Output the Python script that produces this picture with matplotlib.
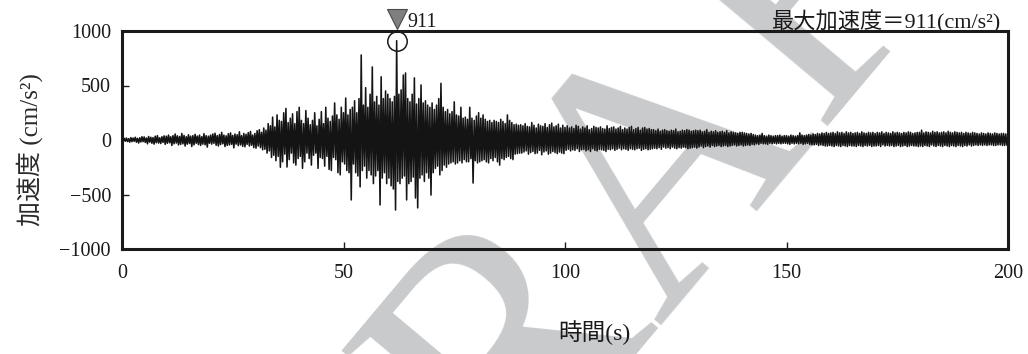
import numpy as np
import matplotlib
matplotlib.use("Agg")
import matplotlib.pyplot as plt

# ---- data: 4 readings per second ----
dt = 0.25
accel_rows = [
    # 0-10 s
    [8, -12, 15, -10, 18, -14, 12, -20, 22, -15, 18, -12, 25, -20, 15, -28, 20, -18, 30, -15,
     28, -22, 18, -35, 32, -20, 25, -30, 22, -38, 35, -25, 40, -28, 20, -32, 30, -22, 38, -40],
    # 10-20 s
    [35, -30, 45, -25, 30, -50, 40, -35, 55, -28, 38, -45, 32, -40, 60, -35, 42, -55, 30, -38,
     48, -32, 35, -60, 40, -45, 52, -30, 36, -42, 45, -50, 30, -38, 58, -44, 40, -65, 35, -30],
    # 20-30 s
    [45, -38, 55, -30, 62, -48, 40, -55, 50, -42, 70, -35, 45, -60, 38, -50, 58, -45, 65, -40,
     42, -72, 55, -38, 48, -52, 75, -45, 40, -58, 60, -62, 52, -40, 68, -55, 78, -48, 45, -70],
    # 30-40 s
    [60, -75, 85, -55, 95, -70, 70, -90, 110, -85, 90, -120, 150, -100, 130, -160, 210, -140, 120, -190,
     230, -150, 180, -250, 170, -200, 250, -130, 290, -248, 160, -180, 200, -120, 240, -210, 150, -230, 260, -170],
    # 40-50 s
    [300, -150, 180, -260, 150, -200, 270, -120, 200, -170, 140, -230, 180, -140, 250, -120, 130, -260, 190, -160,
     260, -170, 150, -240, 300, -150, 200, -270, 170, -280, 220, -160, 340, -180, 230, -300, 190, -320, 300, -200],
    # 50-60 s
    [250, -220, 385, -280, 230, -300, 280, -550, 300, -220, 360, -300, 250, -330, 380, -430, 780, -280, 320, -240,
     480, -350, 300, -280, 420, -320, 670, -400, 350, -330, 400, -280, 320, -596, 580, -350, 380, -300, 450, -400],
    # 60-70 s
    [420, -350, 380, -420, 350, -450, 400, -642, 911, -380, 420, -400, 460, -350, 596, -330, 615, -550, 380, -400,
     350, -380, 420, -340, 570, -532, 330, -623, 380, -350, 505, -320, 340, -380, 360, -300, 320, -350, 300, -505],
    # 70-80 s
    [340, -300, 280, -260, 320, -240, 380, -320, 520, -280, 300, -230, 260, -250, 280, -220, 240, -210, 260, -200,
     350, -220, 230, -210, 220, -190, 300, -210, 200, -180, 210, -200, 190, -200, 300, -170, 200, -395, 180, -190],
    # 80-90 s
    [220, -210, 250, -200, 200, -190, 230, -180, 190, -200, 170, -210, 180, -170, 160, -190, 180, -160, 170, -200,
     160, -230, 190, -170, 170, -180, 150, -160, 230, -150, 180, -170, 160, -180, 140, -130, 145, -125, 135, -120],
    # 90-100 s
    [140, -120, 130, -110, 150, -100, 125, -130, 120, -115, 160, -105, 135, -125, 110, -120, 145, -95, 130, -135,
     125, -110, 150, -100, 115, -130, 140, -120, 155, -105, 120, -115, 130, -125, 145, -110, 110, -120, 135, -125],
    # 100-110 s
    [115, -95, 130, -85, 110, -100, 120, -90, 105, -95, 135, -80, 125, -105, 100, -90, 120, -85, 110, -100,
     130, -90, 95, -105, 105, -80, 125, -95, 115, -100, 110, -85, 120, -90, 105, -95, 100, -105, 130, -85],
    # 110-120 s
    [105, -90, 115, -80, 120, -95, 100, -85, 110, -75, 125, -90, 95, -80, 110, -85, 100, -95, 115, -80,
     125, -85, 95, -90, 105, -80, 115, -75, 90, -95, 110, -85, 115, -80, 100, -90, 105, -85, 95, -80],
    # 120-130 s
    [95, -75, 85, -80, 100, -70, 80, -85, 90, -65, 95, -75, 85, -70, 80, -80, 90, -65, 85, -75,
     100, -80, 75, -70, 80, -75, 90, -65, 85, -70, 95, -80, 90, -75, 80, -70, 85, -65, 90, -75],
    # 130-140 s
    [85, -65, 90, -55, 75, -70, 80, -60, 95, -55, 70, -65, 80, -50, 75, -60, 85, -55, 70, -50,
     75, -60, 80, -55, 70, -50, 85, -60, 65, -55, 75, -50, 70, -45, 65, -55, 60, -50, 70, -45],
    # 140-150 s
    [70, -55, 65, -50, 60, -45, 55, -50, 60, -40, 50, -45, 45, -35, 40, -40, 45, -30, 60, -35,
     40, -35, 35, -40, 45, -30, 40, -35, 35, -30, 40, -35, 40, -30, 45, -35, 35, -30, 40, -30],
    # 150-160 s
    [40, -35, 35, -40, 45, -30, 40, -35, 35, -30, 40, -35, 65, -30, 45, -40, 40, -35, 45, -30,
     50, -40, 45, -45, 55, -45, 50, -40, 60, -50, 55, -45, 65, -50, 60, -55, 70, -55, 60, -50],
    # 160-170 s
    [65, -55, 70, -60, 60, -50, 75, -55, 65, -60, 70, -50, 60, -55, 75, -60, 65, -50, 70, -55,
     60, -55, 65, -60, 70, -50, 60, -55, 75, -60, 65, -50, 60, -55, 70, -50, 65, -60, 70, -55],
    # 170-180 s
    [60, -55, 70, -50, 65, -60, 75, -45, 60, -55, 70, -50, 65, -55, 60, -50, 75, -60, 65, -55,
     70, -50, 65, -60, 60, -55, 70, -50, 65, -60, 75, -55, 70, -50, 60, -55, 65, -55, 70, -60],
    # 180-190 s
    [70, -55, 90, -60, 65, -50, 75, -55, 70, -60, 65, -45, 80, -55, 70, -60, 75, -50, 65, -55,
     70, -60, 75, -50, 65, -55, 80, -60, 70, -50, 65, -55, 75, -60, 70, -50, 65, -55, 70, -60],
    # 190-200 s
    [60, -50, 70, -55, 65, -45, 60, -55, 70, -50, 65, -45, 60, -50, 55, -45, 65, -50, 60, -45,
     55, -50, 65, -45, 60, -45, 55, -50, 65, -50, 60, -45, 55, -45, 60, -50, 60, -50, 55, -45],
]
accel = np.array([v for row in accel_rows for v in row], dtype=float)
time = np.arange(len(accel)) * dt

x_ticks = [0, 50, 100, 150, 200]
y_ticks = [-1000, -500, 0, 500, 1000]
x_label = "時間(s)"
y_label = "加速度 (cm/s²)"
title_text = "最大加速度＝911(cm/s²)"
watermark = "DRAFT"

# ---- style ----
serif = ["Liberation Serif", "Noto Sans CJK JP"]
plt.rcParams["font.family"] = serif
plt.rcParams["axes.unicode_minus"] = True

W, H = 1028, 354
fig = plt.figure(figsize=(W / 100, H / 100), dpi=100)
fig.patch.set_facecolor("white")

# watermark behind the chart
fig.text(0.63, 0.44, watermark, rotation=50, fontsize=250, color="#c9cacc",
         ha="center", va="center", family="Liberation Serif", zorder=0)

ax = fig.add_axes([122 / W, 1 - 249 / H, 886 / W, 218 / H])
ax.patch.set_alpha(0)
ax.set_zorder(1)

ax.plot(time, accel, color="#141414", lw=1.15, zorder=3)

ax.set_xlim(x_ticks[0], x_ticks[-1])
ax.set_ylim(y_ticks[0], y_ticks[-1])
ax.set_xticks(x_ticks)
ax.set_yticks(y_ticks)
ax.tick_params(direction="in", length=5, width=1, labelsize=14.5, colors="#1a1a1a")
ax.tick_params(axis="x", pad=11)
ax.tick_params(axis="y", pad=8)
for s in ax.spines.values():
    s.set_linewidth(2.2)
    s.set_color("#1a1a1a")

# peak markers
ip = int(np.argmax(accel))
tp, vp = time[ip], accel[ip]
ax.plot([tp], [vp], "o", ms=14, mfc="none", mec="#1a1a1a", mew=1.1, zorder=4, clip_on=False)
ax.plot([tp], [1110], "v", ms=14, mfc="#7f7f7f", mec="#4a4a4a", mew=0.8, zorder=4, clip_on=False)
ax.annotate(f"{int(vp)}", (tp, 1110), xytext=(8, -6), textcoords="offset points",
            fontsize=14.5, ha="left", va="baseline", color="#1a1a1a", annotation_clip=False)

fig.text(1001 / W, 1 - 28 / H, title_text, ha="right", va="baseline", fontsize=16,
         family=serif, color="#1a1a1a")
fig.text(30 / W, 1 - 150 / H, y_label, rotation=90, ha="center", va="center",
         fontsize=18, family=serif, color="#2a2a2a")
fig.text(594 / W, 1 - 333 / H, x_label, ha="center", va="center",
         fontsize=17, family=serif, color="#1a1a1a")

fig.savefig("out.png", dpi=100, facecolor="white")
